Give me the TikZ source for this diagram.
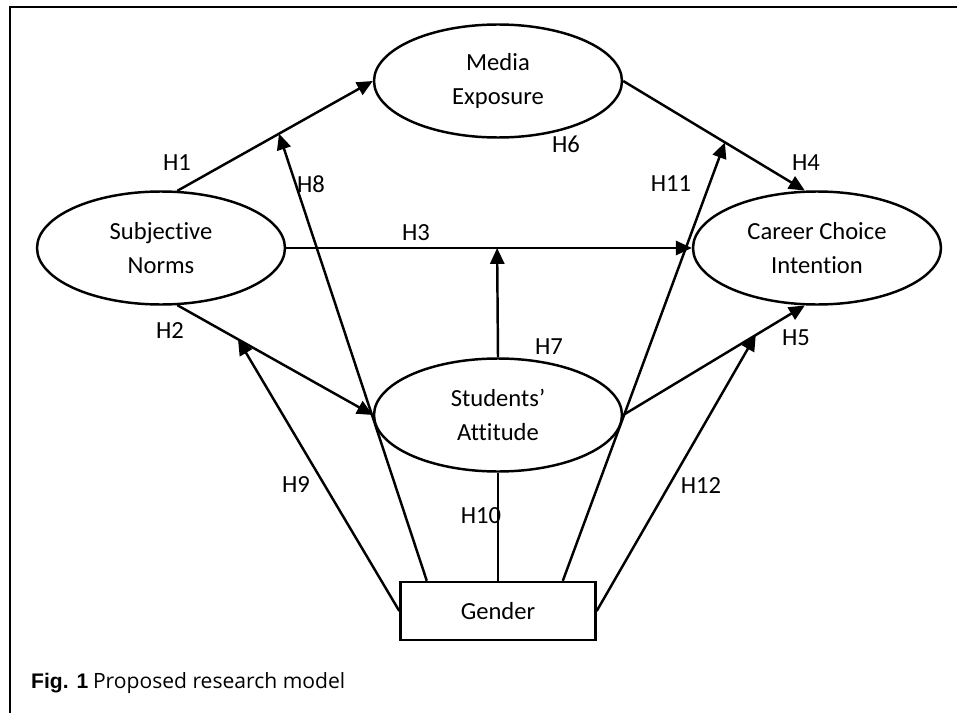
\documentclass[tikz,border=0pt]{standalone}
\usepackage{fontspec}
\setmainfont{Carlito}[Ligatures=NoCommon]
\newfontfamily\capfont{Open Sans}
\newfontfamily\figfont{Liberation Sans}
\usetikzlibrary{shapes.geometric,arrows.meta}

\begin{document}
\begin{tikzpicture}[x=0.02cm,y=-0.02cm,line width=1.4pt,
    construct/.style={ellipse,draw,minimum width=4.96cm,minimum height=2.26cm,inner sep=0pt,align=center,font=\fontsize{14}{19}\selectfont},
    genbox/.style={rectangle,draw,minimum width=3.9cm,minimum height=1.16cm,inner sep=0pt,font=\fontsize{14}{19}\selectfont},
    hyp/.style={font=\fontsize{14}{17}\selectfont,inner sep=1pt},
    path/.style={-{Triangle[length=9pt,width=8pt]}}]
    \useasboundingbox (0,0) rectangle (957,713);
    % frame
    \draw[line width=1pt] (957,7) -- (10,7) -- (10,713);

    \node[construct] (me) at (498,81) {Media\\Exposure};
    \node[construct] (sn) at (161,248) {Subjective\\Norms};
    \node[construct] (cci) at (817,248) {Career Choice\\Intention};
    \node[construct] (sa) at (498,415) {Students’\\Attitude};
    \node[genbox] (gen) at (498,611) {Gender};

    \draw[path] (sn.74) -- coordinate[pos=0.52] (h1m) (me.west);
    \draw[path] (sn.-74) -- coordinate[pos=0.31] (h2m) (sa.west);
    \draw[path] (sn.east) -- coordinate[pos=0.52] (h3m) (cci.west);
    \draw[path] (me.east) -- coordinate[pos=0.56] (h4m) (cci.102);
    \draw[path] (sa.east) -- coordinate[pos=0.73] (h5m) (cci.-102);

    % moderation / mediation
    \draw[path] (sa.north) -- (h3m);
    \draw[path] (gen.157.5) -- (h1m);
    \draw[path] (gen.west) -- (h2m);
    \draw (gen.north) -- (sa.south);
    \draw[path] (gen.25) -- (h4m);
    \draw[path] (gen.east) -- (h5m);

    \node[hyp] (l1) at (177,163) {H1};
    \node[hyp] (l2) at (170,331) {H2};
    \node[hyp] (l3) at (416,233) {H3};
    \node[hyp] (l4) at (806,163) {H4};
    \node[hyp] (l5) at (796,338) {H5};
    \node[hyp] (l6) at (566,144) {H6};
    \node[hyp] (l7) at (549,347) {H7};
    \node[hyp] (l8) at (311,184) {H8};
    \node[hyp] (l9) at (296,485) {H9};
    \node[hyp] (l10) at (481,516) {H10};
    \node[hyp] (l11) at (671,184) {H11};
    \node[hyp] (l12) at (701,486) {H12};

    \node[anchor=base west,inner sep=0pt,font=\fontsize{12}{14}\selectfont] (cap) at (30,688) {{\figfont\bfseries Fig. 1} {\capfont Proposed research model}};
\end{tikzpicture}
\end{document}
